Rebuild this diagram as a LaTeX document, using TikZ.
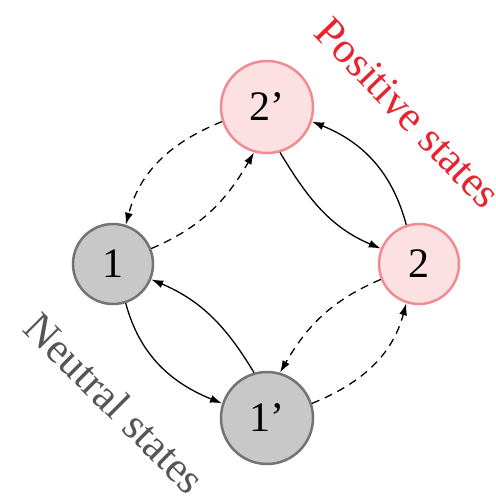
\documentclass[tikz,border=0pt]{standalone}
\usepackage{fontspec}
\setmainfont{Liberation Serif}
\usetikzlibrary{arrows.meta}
\definecolor{pinkfill}{RGB}{252,224,226}
\definecolor{pinkline}{RGB}{240,140,145}
\definecolor{grayfill}{RGB}{200,200,200}
\definecolor{grayline}{RGB}{115,115,115}
\definecolor{posred}{RGB}{232,35,45}
\definecolor{neutgray}{RGB}{85,85,85}
\begin{document}
\begin{tikzpicture}[x=1pt,y=-1pt,
  statebox/.style={circle,inner sep=0pt,line width=2.5pt,font=\fontsize{42}{42}\selectfont},
  posstate/.style={statebox,draw=pinkline,fill=pinkfill},
  neustate/.style={statebox,draw=grayline,fill=grayfill},
  conn/.style={line width=1.3pt,-{Latex[length=12pt,width=8pt]}},
  dconn/.style={conn,dash pattern=on 8pt off 6pt},
  lab/.style={font=\fontsize{43}{43}\selectfont,inner sep=0pt}]
\useasboundingbox (0,0) rectangle (495,500);
\node[posstate,minimum size=92pt] (n2p) at (267,107) {2'};
\node[neustate,minimum size=80pt] (n1) at (113,264) {1};
\node[posstate,minimum size=80pt] (n2) at (419,264) {2};
\node[neustate,minimum size=92pt] (n1p) at (267,418) {1'};
% upper half
\draw[dconn] (n2p.198) to[out=202,in=75] (n1.72);
\draw[dconn] (n1.22) to[out=23,in=240] (n2p.254);
\draw[conn] (n2.108) to[out=105,in=-22] (n2p.342);
\draw[conn] (n2p.286) to[out=-59,in=157] (n2.158);
% lower half
\draw[dconn] (n1p.18) to[out=22,in=255] (n2.252);
\draw[dconn] (n2.202) to[out=203,in=60] (n1p.74);
\draw[conn] (n1.288) to[out=285,in=158] (n1p.162);
\draw[conn] (n1p.106) to[out=121,in=-23] (n1.338);
% labels
\node[lab,text=posred,rotate=-46] (pos) at (408,113) {Positive states};
\node[lab,text=neutgray,rotate=-45] (neu) at (115,403) {Neutral states};
\end{tikzpicture}
\end{document}
